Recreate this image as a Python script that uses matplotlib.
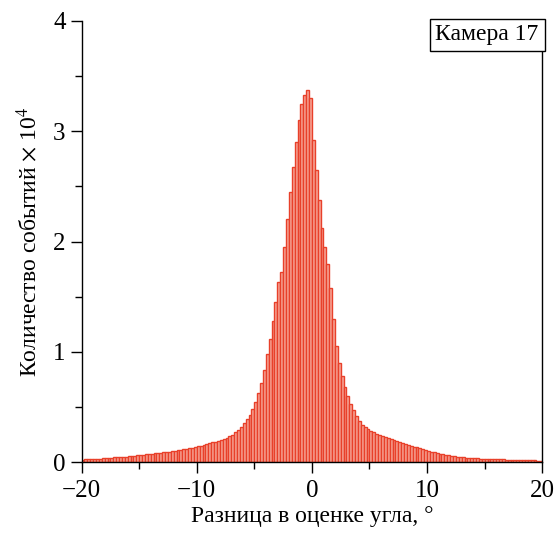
import numpy as np
import matplotlib
matplotlib.use("Agg")
import matplotlib.pyplot as plt
from matplotlib.ticker import MultipleLocator
from matplotlib.offsetbox import AnchoredText

plt.rcParams['font.family'] = ['Liberation Serif', 'DejaVu Serif']
plt.rcParams['mathtext.fontset'] = 'stix'
plt.rcParams['axes.unicode_minus'] = True

# histogram: bin edges -20..20 step 0.25, counts in units of 10^4
bin_lo = -20.0
bin_hi = 20.0
bin_w = 0.25
counts = [
    # -20 .. -10
    0.022, 0.025, 0.028, 0.026, 0.030, 0.032, 0.031, 0.035,
    0.036, 0.040, 0.038, 0.043, 0.046, 0.045, 0.050, 0.052,
    0.055, 0.058, 0.060, 0.063, 0.066, 0.068, 0.072, 0.074,
    0.077, 0.080, 0.083, 0.086, 0.090, 0.093, 0.097, 0.100,
    0.104, 0.108, 0.112, 0.117, 0.122, 0.127, 0.132, 0.138,
    # -10 .. 0
    0.144, 0.150, 0.157, 0.164, 0.171, 0.179, 0.187, 0.196,
    0.200, 0.210, 0.220, 0.235, 0.250, 0.270, 0.295, 0.320,
    0.360, 0.390, 0.430, 0.480, 0.550, 0.630, 0.720, 0.840,
    0.980, 1.120, 1.280, 1.450, 1.630, 1.720, 1.950, 2.200,
    2.450, 2.680, 2.900, 3.100, 3.250, 3.330, 3.370, 3.300,
    # 0 .. 10
    2.920, 2.650, 2.380, 2.120, 1.950, 1.800, 1.580, 1.300,
    1.050, 0.900, 0.780, 0.680, 0.600, 0.530, 0.470, 0.420,
    0.370, 0.340, 0.320, 0.300, 0.285, 0.270, 0.260, 0.250,
    0.240, 0.230, 0.220, 0.210, 0.200, 0.190, 0.180, 0.175,
    0.165, 0.158, 0.150, 0.142, 0.134, 0.126, 0.118, 0.110,
    # 10 .. 20
    0.103, 0.096, 0.090, 0.084, 0.078, 0.072, 0.067, 0.062,
    0.057, 0.053, 0.049, 0.046, 0.043, 0.041, 0.039, 0.037,
    0.035, 0.034, 0.033, 0.032, 0.031, 0.030, 0.029, 0.028,
    0.027, 0.026, 0.025, 0.024, 0.023, 0.022, 0.021, 0.020,
    0.019, 0.019, 0.018, 0.017, 0.016, 0.016, 0.015, 0.015,
]
x_ticks = [-20, -10, 0, 10, 20]
y_ticks = [0, 1, 2, 3, 4]
label_text = "Камера 17"
xlabel = "Разница в оценке угла, °"
ylabel = r"Количество событий $\times$ 10$^{4}$"

edges = np.arange(bin_lo, bin_hi + bin_w / 2, bin_w)
left_edges = edges[:-1]

fig = plt.figure(figsize=(5.59, 5.35), dpi=100)
ax = fig.add_axes([0.146, 0.136, 0.824, 0.825])

ax.bar(left_edges, counts, width=bin_w, align='edge',
       facecolor='#f6a496', edgecolor='#e8402a', linewidth=1.0)

ax.set_xlim(bin_lo, bin_hi)
ax.set_ylim(0, 4)
ax.set_xticks(x_ticks)
ax.set_yticks(y_ticks)
ax.xaxis.set_minor_locator(MultipleLocator(5))
ax.yaxis.set_minor_locator(MultipleLocator(0.5))
ax.tick_params(axis='both', which='major', direction='out', length=8, width=1.0,
               labelsize=18, color='black')
ax.tick_params(axis='both', which='minor', direction='out', length=5, width=1.0)
ax.tick_params(axis='x', pad=5)

ax.spines['top'].set_visible(False)
for s in ['left', 'bottom', 'right']:
    ax.spines[s].set_linewidth(1.0)
ax.spines['bottom'].set_zorder(5)

ax.set_xlabel(xlabel, fontsize=17, labelpad=3)
ax.set_ylabel(ylabel, fontsize=17, labelpad=8)

at = AnchoredText(label_text, loc='upper right', pad=0.15, borderpad=0.0,
                  prop=dict(size=17), frameon=True)
at.patch.set_boxstyle('square,pad=0.1')
at.patch.set_linewidth(1.0)
at.patch.set_edgecolor('black')
ax.add_artist(at)

fig.savefig('out.png', dpi=100)
